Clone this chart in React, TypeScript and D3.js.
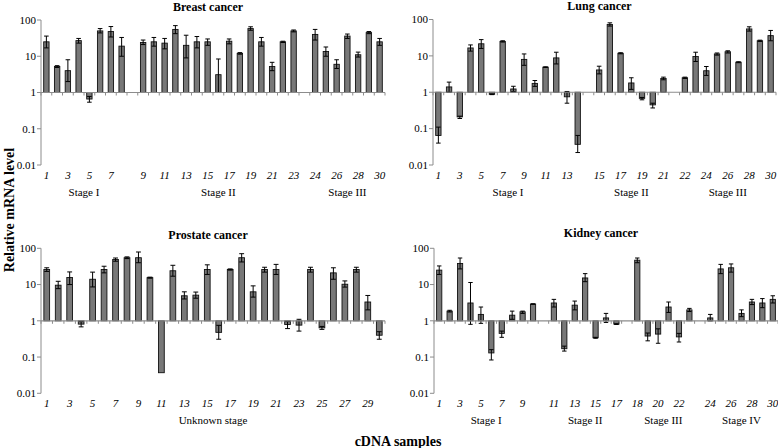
import React from "react";
import * as d3 from "d3";

// ---- data ----
const yTicks = [0.01, 0.1, 1, 10, 100];
const yTickLabels = ["0.01", "0.1", "1", "10", "100"];

// groups of samples (a blank slot sits between groups)
const breastGroups = [["Stage I", 1, 8], ["Stage II", 9, 23], ["Stage III", 24, 30]];
const breastLabels = [1, 3, 5, 7, 9, 11, 13, 15, 17, 19, 21, 23, 24, 26, 28, 30];
const breastValues = [25, 5.2, 4, 27, 0.66, 50, 48, 19, 24, 25, 23, 55, 20, 25, 25, 3.1, 26, 12, 58, 25, 5.2, 25, 50, 40, 13.5, 6, 36, 11, 45, 25];
const breastHi = [36, 5.5, 8, 31, 0.78, 58, 66, 33, 28, 33, 31, 70, 38, 35, 30, 8.4, 30, 12.6, 65, 33, 6.8, 26, 53, 55, 18, 8, 41, 13, 48, 31];
const breastLo = [17, 4.9, 2, 23, 0.54, 44, 34, 10, 21, 19, 16, 42, 9, 17, 20, 1, 22, 11.4, 52, 19, 4, 24, 47, 28, 10, 4.6, 31, 9.5, 42, 20];

const lungGroups = [["Stage I", 1, 14], ["Stage II", 15, 21], ["Stage III", 22, 30]];
const lungLabels = [1, 3, 5, 7, 9, 11, 13, 15, 17, 19, 21, 22, 24, 26, 28, 30];
const lungValues = [0.065, 1.4, 0.21, 16.5, 21.5, 0.88, 25, 1.23, 8, 1.75, 4.9, 8.8, 0.75, 0.037, 4.1, 73, 11.8, 1.8, 0.68, 0.45, 2.4, 2.5, 9.6, 3.9, 11.3, 13, 6.7, 55, 26, 36];
const lungHi = [0.11, 1.9, 0.22, 20, 28, 0.9, 26, 1.46, 11.3, 2.1, 5.0, 12.6, 1.05, 0.065, 5.2, 81, 12.2, 2.5, 0.72, 0.5, 2.6, 2.6, 12.6, 5.1, 12, 13.8, 6.9, 63, 27, 50];
const lungLo = [0.04, 1.0, 0.19, 13.5, 16, 0.86, 24, 1.05, 5.5, 1.45, 4.8, 6, 0.5, 0.022, 3.2, 66, 11.4, 1.2, 0.62, 0.37, 2.2, 2.4, 7, 2.9, 10.5, 12, 6.5, 48, 25, 26];

const prostateGroups = [["Unknown stage", 1, 30]];
const prostateLabels = [1, 3, 5, 7, 9, 11, 13, 15, 17, 19, 21, 23, 25, 27, 29];
const prostateValues = [26, 9.6, 15.6, 0.81, 14, 26, 49, 55, 55, 15.5, 0.037, 24, 4.9, 5.1, 26, 0.48, 26, 55, 6.3, 26, 26, 0.79, 0.76, 26, 0.64, 21, 10.2, 26, 3.3, 0.4];
const prostateHi = [29, 12.3, 22.3, 0.95, 22, 32, 54, 58, 79, 16, 0.037, 34, 6.3, 6.2, 35, 0.75, 27, 71, 9.2, 30, 36, 0.95, 1.1, 30, 0.7, 29, 12.6, 30, 5, 0.5];
const prostateLo = [23, 7.7, 10, 0.68, 8.6, 21, 44, 52, 40, 15, 0.037, 17, 4, 4.2, 19, 0.31, 25, 42, 4.5, 22, 19, 0.61, 0.52, 22, 0.58, 14, 8.5, 22, 2, 0.31];

const kidneyGroups = [["Stage I", 1, 10], ["Stage II", 11, 17], ["Stage III", 18, 23], ["Stage IV", 24, 30]];
const kidneyLabels = [1, 3, 5, 7, 9, 11, 13, 15, 17, 18, 20, 22, 24, 26, 28, 30];
const kidneyValues = [25, 1.85, 38, 3.1, 1.5, 0.13, 0.45, 1.43, 1.77, 2.9, 3.1, 0.17, 2.7, 15.2, 0.34, 1.2, 0.81, 47, 0.38, 0.43, 2.4, 0.36, 2, 1.2, 27, 29, 1.6, 3.3, 3.1, 3.9];
const kidneyHi = [32.6, 1.95, 54, 11.4, 2.4, 0.16, 0.52, 1.85, 1.85, 2.95, 3.9, 0.2, 3.5, 20, 0.35, 1.6, 0.83, 54, 0.46, 0.6, 3.3, 0.45, 2.2, 1.5, 36, 37, 2, 3.9, 4.1, 4.9];
const kidneyLo = [19, 1.75, 27, 0.8, 0.85, 0.083, 0.35, 1.1, 1.6, 2.85, 2.4, 0.146, 2.0, 12, 0.33, 0.9, 0.79, 40, 0.28, 0.24, 1.7, 0.26, 1.8, 1.0, 20, 22, 1.3, 2.8, 2.3, 3.1];

const FONT = "'Liberation Serif', 'DejaVu Serif', serif";
const AXIS = "#8c8c8c";

function Panel(props: any) {
  const { title, groups, labels, values, hi, lo, x0, x1, yTop, yBot, titleY } = props;

  // slot keys: sample numbers, with "gN" for the empty slot between groups
  const slots: string[] = [];
  groups.forEach((g: any, gi: number) => {
    if (gi > 0) slots.push("g" + gi);
    d3.range(g[1], g[2] + 1).forEach((n) => slots.push(String(n)));
  });

  const x = d3.scaleBand().domain(slots).range([x0, x1]).padding(0);
  const y = d3.scaleLog().domain([0.01, 100]).range([yBot, yTop]);
  const bw = x.bandwidth() * 0.5;
  const cap = bw * 0.85;
  const base = y(1);
  const cx = (n: number) => (x(String(n)) as number) + x.bandwidth() / 2;

  return (
    <g>
      <text x={(x0 + x1) / 2 - 5} y={titleY} textAnchor="middle" fontFamily={FONT} fontWeight="bold" fontSize={12}>
        {title}
      </text>

      {/* value axis */}
      <line x1={x0} x2={x0} y1={yTop} y2={yBot} stroke={AXIS} />
      {yTicks.map((t, i) => (
        <g key={t}>
          <line x1={x0 - 4} x2={x0} y1={y(t)} y2={y(t)} stroke={AXIS} />
          <text x={x0 - 5} y={y(t)} dy="0.35em" textAnchor="end" fontFamily={FONT} fontSize={11}>
            {yTickLabels[i]}
          </text>
        </g>
      ))}

      {/* bars */}
      {values.map((v: number, i: number) => {
        const n = i + 1;
        const yv = y(v);
        return (
          <rect
            key={"b" + n}
            x={cx(n) - bw / 2}
            y={Math.min(yv, base)}
            width={bw}
            height={Math.abs(base - yv)}
            fill="#787878"
            stroke="#111"
            strokeWidth={0.9}
          />
        );
      })}

      {/* error bars */}
      {values.map((v: number, i: number) => {
        const n = i + 1;
        if (hi[i] === lo[i]) return null;
        const c = cx(n);
        return (
          <g key={"e" + n} stroke="#000" strokeWidth={1}>
            <line x1={c} x2={c} y1={y(hi[i])} y2={y(lo[i])} />
            <line x1={c - cap / 2} x2={c + cap / 2} y1={y(hi[i])} y2={y(hi[i])} />
            <line x1={c - cap / 2} x2={c + cap / 2} y1={y(lo[i])} y2={y(lo[i])} />
          </g>
        );
      })}

      {/* category axis at 1 */}
      <line x1={x0} x2={x1} y1={base} y2={base} stroke={AXIS} strokeWidth={1.2} />
      {d3.range(slots.length + 1).map((k) => {
        const xx = x0 + k * x.step();
        return <line key={"t" + k} x1={xx} x2={xx} y1={base} y2={base + 3} stroke={AXIS} />;
      })}

      {labels.map((n: number) => (
        <text key={"l" + n} x={cx(n)} y={yBot + 14} textAnchor="middle" fontFamily={FONT} fontStyle="italic" fontSize={11}>
          {n}
        </text>
      ))}

      {groups.map((g: any) => (
        <text key={g[0]} x={(cx(g[1]) + cx(g[2])) / 2} y={yBot + 31} textAnchor="middle" fontFamily={FONT} fontSize={11}>
          {g[0]}
        </text>
      ))}
    </g>
  );
}

export default function App() {
  return (
    <svg width={778} height={448} style={{ position: "absolute", left: 0, top: 0, background: "#fff" }}>
      <Panel title="Breast cancer" groups={breastGroups} labels={breastLabels} values={breastValues} hi={breastHi} lo={breastLo}
        x0={41} x1={385} yTop={20} yBot={165} titleY={11} />
      <Panel title="Lung cancer" groups={lungGroups} labels={lungLabels} values={lungValues} hi={lungHi} lo={lungLo}
        x0={433} x1={776} yTop={19.5} yBot={165} titleY={10} />
      <Panel title="Prostate cancer" groups={prostateGroups} labels={prostateLabels} values={prostateValues} hi={prostateHi} lo={prostateLo}
        x0={41} x1={385} yTop={248.3} yBot={393.3} titleY={239} />
      <Panel title="Kidney cancer" groups={kidneyGroups} labels={kidneyLabels} values={kidneyValues} hi={kidneyHi} lo={kidneyLo}
        x0={434} x1={778} yTop={248.3} yBot={393.3} titleY={237} />

      <text transform="translate(14,210) rotate(-90)" textAnchor="middle" fontFamily={FONT} fontWeight="bold" fontSize={14}>
        Relative mRNA level
      </text>
      <text x={398} y={446} textAnchor="middle" fontFamily={FONT} fontWeight="bold" fontSize={14}>
        cDNA samples
      </text>
    </svg>
  );
}
